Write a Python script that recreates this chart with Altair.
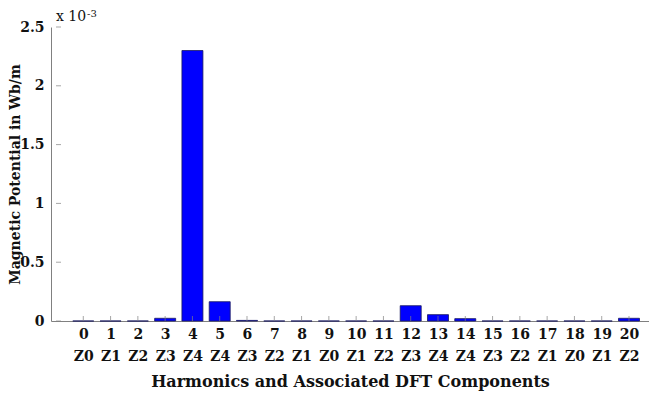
import json
import altair as alt
import pandas as pd

harmonics = list(range(21))
dft_labels = ["Z0", "Z1", "Z2", "Z3", "Z4", "Z4", "Z3", "Z2", "Z1", "Z0", "Z1",
              "Z2", "Z3", "Z4", "Z4", "Z3", "Z2", "Z1", "Z0", "Z1", "Z2"]
# magnitude in units of 1e-3 Wb/m
magnitude_e3 = [0.0, 0.0, 0.0, 0.023, 2.30, 0.164, 0.005, 0.0, 0.0, 0.0, 0.0,
                0.0, 0.13, 0.054, 0.02, 0.0, 0.0, 0.0, 0.0, 0.0, 0.023]
y_ticks = [0, 0.5, 1, 1.5, 2, 2.5]
exp_base = "x 10"
exp_power = "-3"

df = pd.DataFrame({"h": harmonics, "z": dft_labels, "m": magnitude_e3})
yt = pd.DataFrame({"v": y_ticks, "x0": [-1] * len(y_ticks)})
xt = pd.DataFrame({"h": harmonics, "y0": [0] * len(harmonics)})
note = pd.DataFrame({"x0": [-1], "v": [2.5], "t": [exp_base], "p": [exp_power]})

FONT = "DejaVu Serif"
GRAY = "#808080"

xscale = alt.Scale(domain=[-1, 20.55], nice=False, zero=False)
yscale = alt.Scale(domain=[0, 2.5], nice=False)

label_expr = "[format(datum.value, 'd'), " + json.dumps(dft_labels) + "[datum.value]]"

xaxis = alt.Axis(values=harmonics, labelExpr=label_expr, ticks=False, grid=False,
                 title="Harmonics and Associated DFT Components",
                 labelFont=FONT, labelFontWeight="bold", labelFontSize=14,
                 labelLineHeight=22, labelPadding=6, labelFlush=False,
                 labelOverlap=False, labelBound=False, labelColor="#111",
                 titleFont=FONT, titleFontWeight="bold", titleFontSize=16,
                 titlePadding=10, titleColor="#111",
                 domainColor=GRAY)
yaxis = alt.Axis(values=y_ticks, format="~g", ticks=False, grid=False,
                 title="Magnetic Potential in Wb/m",
                 labelFont=FONT, labelFontWeight="bold", labelFontSize=14,
                 labelPadding=7, labelColor="#111", labelOverlap=False,
                 titleFont=FONT, titleFontWeight="bold", titleFontSize=14,
                 titleX=-36, titleBaseline="middle", titleColor="#111",
                 domainColor=GRAY)

bars = alt.Chart(df).mark_bar(size=21, color="#0000FF", stroke="#1a1a60", strokeWidth=0.8).encode(
    x=alt.X("h:Q", scale=xscale, axis=xaxis),
    y=alt.Y("m:Q", scale=yscale, axis=yaxis),
)

xticks = alt.Chart(xt).mark_tick(orient="vertical", size=5, thickness=1, color=GRAY, yOffset=-2.5).encode(
    x=alt.X("h:Q", scale=xscale, axis=xaxis),
    y=alt.Y("y0:Q", scale=yscale, axis=yaxis),
)

yticks = alt.Chart(yt).mark_tick(orient="horizontal", size=5, thickness=1, color=GRAY, xOffset=2.5).encode(
    x=alt.X("x0:Q", scale=xscale, axis=xaxis),
    y=alt.Y("v:Q", scale=yscale, axis=yaxis),
)

txt = alt.Chart(note).mark_text(font=FONT, fontSize=14, align="left", baseline="alphabetic",
                                dx=0, dy=-6, color="#111").encode(
    x=alt.X("x0:Q", scale=xscale, axis=xaxis),
    y=alt.Y("v:Q", scale=yscale, axis=yaxis),
    text="t:N",
)
sup = alt.Chart(note).mark_text(font=FONT, fontSize=10, align="left", baseline="alphabetic",
                                dx=31, dy=-10, color="#111").encode(
    x=alt.X("x0:Q", scale=xscale, axis=xaxis),
    y=alt.Y("v:Q", scale=yscale, axis=yaxis),
    text="p:N",
)

chart = alt.layer(bars, xticks, yticks, txt, sup).properties(
    width=598, height=294,
    autosize=alt.AutoSizeParams(type="none"),
    padding={"left": 43, "top": 19, "right": 0, "bottom": 70},
).configure_view(stroke=None).configure_axis(labelOverlap=False)

chart.save("out.html", embed_options={"renderer": "svg", "actions": False})
